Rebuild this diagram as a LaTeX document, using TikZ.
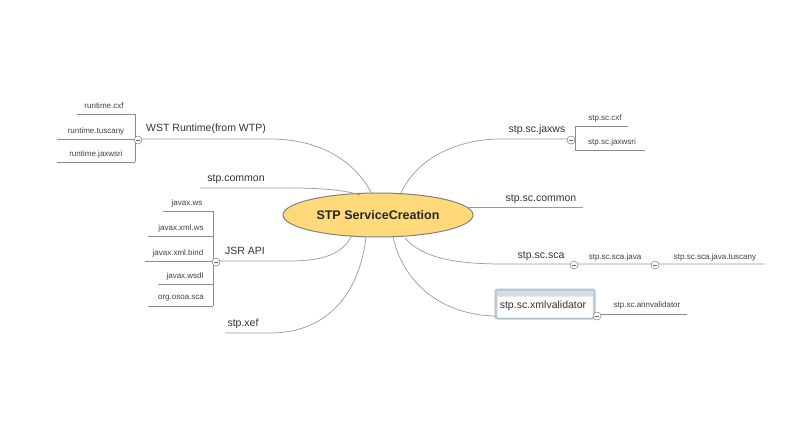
\documentclass[tikz,border=0pt]{standalone}
\usepackage{fontspec}
\setmainfont{Liberation Sans}
\usetikzlibrary{shapes.geometric}
\tikzset{
 ln/.style={draw=black!45,line width=0.6pt},
 br/.style={draw=black!40,line width=0.7pt},
 main/.style={font=\fontsize{10.5}{12}\selectfont,text=black!80,inner sep=0},
 sub/.style={font=\fontsize{8}{9}\selectfont,text=black!75,inner sep=0},
 col/.style={circle,draw=black!45,fill=white,minimum size=8pt,inner sep=0,line width=0.6pt,
   path picture={\draw[black!60,line width=0.7pt] ([xshift=-2.2pt]path picture bounding box.center)--([xshift=2.2pt]path picture bounding box.center);}}
}
\begin{document}
\begin{tikzpicture}[x=1pt,y=-1pt]
\useasboundingbox (0,0) rectangle (800,444);
% center
\node[ellipse,draw=black!50,line width=1pt,fill={rgb,255:red,255;green,217;blue,122},minimum width=190,minimum height=44,font=\bfseries\fontsize{12.5}{14}\selectfont,text=black!85] (c) at (378,215) {STP ServiceCreation};
% WST
\coordinate (w0) at (138,139); \coordinate (w1) at (270,139);
\draw[br] (w0)--(w1) .. controls (330,139) and (360,170) .. (372,194);
\node[main] (wst) at (206,129) {WST Runtime(from WTP)};
\draw[ln] (135,114)--(135,162);
\coordinate (r1) at (77,114); \coordinate (r2) at (57,139); \coordinate (r3) at (57,162);
\draw[ln] (r1)--(135,114); \draw[ln] (r2)--(135,139); \draw[ln] (r3)--(135,162);
\node[sub] (rc) at (104,106) {runtime.cxf};
\node[sub] (rt) at (96,131) {runtime.tuscany};
\node[sub] (rj) at (96,154) {runtime.jaxwsri};
\node[col] (cw) at (138,140) {};
% stp.common
\coordinate (sc0) at (200,188);
\draw[br] (sc0)--(290,188) .. controls (320,188) and (345,190) .. (360,195);
\node[main] (scm) at (236,179) {stp.common};
% JSR
\draw[br] (216,261)--(290,261) .. controls (330,261) and (345,250) .. (352,235);
\node[main] (jsr) at (245,251) {JSR API};
\draw[ln] (213,211)--(213,306);
\foreach \y/\x/\t/\tx in {211/163/javax.ws/187,236/148/javax.xml.ws/181,261/145/javax.xml.bind/178,284/158/javax.wsdl/185,306/148/org.osoa.sca/181}{
  \draw[ln] (\x,\y)--(213,\y);
  \node[sub] at (\tx,\y-8) {\t};}
\node[col] (cj) at (216,262) {};
% xef
\draw[br] (225,333)--(270,333) .. controls (330,333) and (360,290) .. (366,237);
\node[main] (xef) at (243,324) {stp.xef};
% jaxws
\draw[br] (400,195) .. controls (420,150) and (470,139) .. (500,139) -- (571,139);
\node[main] (jx) at (537,130) {stp.sc.jaxws};
\draw[ln] (575,126)--(575,150);
\draw[ln] (575,126)--(628,126); \draw[ln] (575,150)--(645,150);
\node[sub] (j1) at (605,118) {stp.sc.cxf};
\node[sub] (j2) at (612,142) {stp.sc.jaxwsri};
\node[col] (cx) at (571,140) {};
% common
\draw[br] (466,207)--(583,207);
\node[main] (sccm) at (541,199) {stp.sc.common};
% sca
\draw[br] (405,238) .. controls (425,262) and (470,264) .. (505,264) -- (765,264);
\node[main] (sca) at (541,256) {stp.sc.sca};
\node[sub] (sj) at (615,257) {stp.sc.sca.java};
\node[sub] (sjt) at (715,257) {stp.sc.sca.java.tuscany};
\node[col] (c1) at (574,265) {};
\node[col] (c2) at (655,265) {};
% xmlvalidator
\draw[br] (393,237) .. controls (405,290) and (450,316) .. (497,316);
\node[rounded corners=2pt,draw={rgb,255:red,180;green,196;blue,206},line width=2pt,fill={rgb,255:red,214;green,222;blue,228},minimum width=99,minimum height=29] (xb) at (545,304) {};
\node[rounded corners=1pt,fill=white,minimum width=95,minimum height=21,inner sep=0] at (545,307) {};
\node[main] (xv) at (543,306) {stp.sc.xmlvalidator};
\draw[ln] (597,314)--(687,314);
\node[sub] (av) at (647,305) {stp.sc.annvalidator};
\node[col] (c3) at (597,316) {};
\end{tikzpicture}
\end{document}
